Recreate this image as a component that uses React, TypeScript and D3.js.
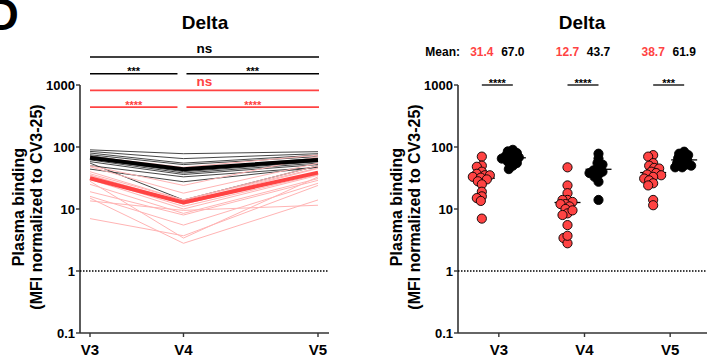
import { useEffect, useRef } from "react";
import * as d3 from "d3";

const visits = ["V3", "V4", "V5"];
// relative spacing of the visits on the left (time) panel
const visitSpacing = [0, 0.41, 1];

// one row per donor: [V3, V4, V5]
const redDonors = [
  [70, 47, 74],
  [50, 24, 70],
  [48, 18, 55],
  [40, 14, 50],
  [37, 14, 46],
  [35, 13, 45],
  [35, 12, 40],
  [33, 12, 38],
  [32, 11, 36],
  [30, 10, 35],
  [28, 3.4, 33],
  [25, 8.5, 31],
  [19, 8, 29],
  [16, 5.5, 26],
  [15, 2.8, 14],
  [13.5, 9.5, 11.5],
  [7, 3.7, 24],
];
const blackDonors = [
  [90, 78, 84],
  [85, 65, 78],
  [80, 55, 74],
  [75, 52, 70],
  [72, 44, 66],
  [68, 42, 62],
  [65, 40, 58],
  [62, 38, 55],
  [58, 36, 52],
  [55, 14, 50],
  [50, 33, 47],
  [44, 27.5, 47],
];

const yTicks = [0.1, 1, 10, 100, 1000];
const yTickLabels = ["0.1", "1", "10", "100", "1000"];

// comparisons over time, per group
const blackComparisons = [
  { from: "V3", to: "V5", label: "ns" },
  { from: "V3", to: "V4", label: "***" },
  { from: "V4", to: "V5", label: "***" },
];
const redComparisons = [
  { from: "V3", to: "V5", label: "ns" },
  { from: "V3", to: "V4", label: "****" },
  { from: "V4", to: "V5", label: "****" },
];
// red vs black at each visit
const groupStars = ["****", "****", "***"];

const W = 707;
const H = 360;
const RED = "#ff4343";
const PINK = "#ffb4b4";
const AXIS = "#333";
const FONT = "'Liberation Sans', Arial, sans-serif";

// simple 1-d beeswarm: push points sideways until they stop overlapping too much
function swarm(ys: number[], minDist: number): number[] {
  const order = d3.range(ys.length).sort((a, b) => ys[a] - ys[b]);
  const placed: { x: number; y: number }[] = [];
  const out = new Array(ys.length).fill(0);
  order.forEach((i) => {
    let best = 0;
    for (let k = 0; k < 60; k++) {
      const dx = (k % 2 === 0 ? 1 : -1) * Math.ceil(k / 2);
      const ok = placed.every((p) => Math.hypot(p.x - dx, p.y - ys[i]) >= minDist);
      if (ok) { best = dx; break; }
    }
    placed.push({ x: best, y: ys[i] });
    out[i] = best;
  });
  return out;
}

export default function App() {
  const svgRef = useRef<SVGSVGElement | null>(null);

  useEffect(() => {
    const svg = d3.select(svgRef.current);
    svg.selectAll("*").remove();
    svg.attr("width", W).attr("height", H).style("font-family", FONT);

    const y = d3.scaleLog().domain([0.1, 1000]).range([333, 85]);
    const xl = d3.scaleLinear().domain([0, 1]).range([90, 318]);
    const xr = d3.scalePoint<string>().domain(visits).range([456, 713]).padding(0.5);

    const redMeans = visits.map((_, i) => d3.mean(redDonors, (d) => d[i]) as number);
    const blackMeans = visits.map((_, i) => d3.mean(blackDonors, (d) => d[i]) as number);

    // panel letter (cut by the page edge, as in the figure)
    svg.append("text").attr("x", -13).attr("y", 30)
      .attr("font-size", 44).attr("font-weight", "bold").text("D");

    const frame = (x0: number, x1: number, cx: number) => {
      const g = svg.append("g");
      g.append("line").attr("x1", x0).attr("x2", x0).attr("y1", y(1000)).attr("y2", y(0.1))
        .attr("stroke", AXIS).attr("stroke-width", 1.6);
      g.append("line").attr("x1", x0).attr("x2", x1).attr("y1", y(0.1)).attr("y2", y(0.1))
        .attr("stroke", AXIS).attr("stroke-width", 1.6);
      g.selectAll(".yt").data(yTicks).enter().append("line")
        .attr("x1", x0 - 4).attr("x2", x0).attr("y1", (d) => y(d)).attr("y2", (d) => y(d))
        .attr("stroke", AXIS).attr("stroke-width", 1.4);
      g.selectAll(".yl").data(yTicks).enter().append("text")
        .attr("x", x0 - 5).attr("y", (d) => y(d)).attr("dy", "0.36em")
        .attr("text-anchor", "end").attr("font-size", 13).attr("font-weight", "bold")
        .text((_, i) => yTickLabels[i]);
      g.append("line").attr("x1", x0).attr("x2", x1).attr("y1", y(1)).attr("y2", y(1))
        .attr("stroke", "#000").attr("stroke-width", 1.4).attr("stroke-dasharray", "1.5,1.5");
      const lab = g.append("text").attr("transform", `translate(${x0 - 56},207) rotate(-90)`)
        .attr("text-anchor", "middle").attr("font-size", 16).attr("font-weight", "bold");
      lab.append("tspan").attr("x", 0).attr("y", 0).text("Plasma binding");
      lab.append("tspan").attr("x", 0).attr("y", 18).text("(MFI normalized to CV3-25)");
      g.append("text").attr("x", cx).attr("y", 29).attr("text-anchor", "middle")
        .attr("font-size", 19).attr("font-weight", "bold").text("Delta");
      return g;
    };

    // ---------- left panel: donor trajectories ----------
    const left = frame(80, 329, 205);
    const xPos = (v: string) => xl(visitSpacing[visits.indexOf(v)]);
    left.selectAll(".xt").data(visits).enter().append("line")
      .attr("x1", (d) => xPos(d)).attr("x2", (d) => xPos(d))
      .attr("y1", y(0.1)).attr("y2", y(0.1) + 4).attr("stroke", AXIS).attr("stroke-width", 1.4);
    left.selectAll(".xl").data(visits).enter().append("text")
      .attr("x", (d) => xPos(d)).attr("y", 355).attr("text-anchor", "middle")
      .attr("font-size", 15).attr("font-weight", "bold").text((d) => d);

    const line = d3.line<number>().x((_, i) => xl(visitSpacing[i])).y((d) => y(d));
    left.selectAll(".bl").data(blackDonors).enter().append("path")
      .attr("d", (d) => line(d)).attr("fill", "none").attr("stroke", "#333")
      .attr("stroke-width", 1).attr("stroke-opacity", 0.9);
    left.selectAll(".rl").data(redDonors).enter().append("path")
      .attr("d", (d) => line(d)).attr("fill", "none").attr("stroke", PINK).attr("stroke-width", 1);
    left.append("path").attr("d", line(redMeans)).attr("fill", "none")
      .attr("stroke", RED).attr("stroke-width", 4);
    left.append("path").attr("d", line(blackMeans)).attr("fill", "none")
      .attr("stroke", "#000").attr("stroke-width", 4);

    const brackets = (list: typeof blackComparisons, row0: number, color: string) => {
      list.forEach((c) => {
        const full = c.from === visits[0] && c.to === visits[visits.length - 1];
        const yy = 57 + (row0 + (full ? 0 : 1)) * 16.7;
        const x1 = xPos(c.from) + (c.from === "V4" ? 3 : 0);
        const x2 = xPos(c.to) - (c.to === "V4" ? 6 : 0) + (c.to === "V5" ? 1 : 0);
        left.append("line").attr("x1", x1).attr("x2", x2).attr("y1", yy).attr("y2", yy)
          .attr("stroke", color).attr("stroke-width", 1.6);
        const ns = c.label === "ns";
        left.append("text").attr("x", (x1 + x2) / 2).attr("y", ns ? yy - 4 : yy + 1.5)
          .attr("text-anchor", "middle").attr("fill", color).attr("font-weight", "bold")
          .attr("font-size", ns ? 13.5 : 11).text(c.label);
      });
    };
    brackets(blackComparisons, 0, "#000");
    brackets(redComparisons, 2, RED);

    // ---------- right panel: dot plot ----------
    const right = frame(458, 707, 582);
    right.selectAll(".xt").data(visits).enter().append("line")
      .attr("x1", (d) => xr(d) as number).attr("x2", (d) => xr(d) as number)
      .attr("y1", y(0.1)).attr("y2", y(0.1) + 4).attr("stroke", AXIS).attr("stroke-width", 1.4);
    right.selectAll(".xl").data(visits).enter().append("text")
      .attr("x", (d) => xr(d) as number).attr("y", 355).attr("text-anchor", "middle")
      .attr("font-size", 15).attr("font-weight", "bold").text((d) => d);

    const groups = [
      { donors: redDonors, means: redMeans, fill: RED, shift: -17, text: RED },
      { donors: blackDonors, means: blackMeans, fill: "#000", shift: 14, text: "#000" },
    ];
    right.append("text").attr("x", 460).attr("y", 56).attr("text-anchor", "end")
      .attr("font-size", 12).attr("font-weight", "bold").text("Mean:");

    visits.forEach((v, i) => {
      const cx = xr(v) as number;
      groups.forEach((gr) => {
        const gx = cx + gr.shift;
        const ys = gr.donors.map((d) => y(d[i]));
        const offs = swarm(ys, 4.6);
        right.append("line").attr("x1", gx - 13).attr("x2", gx + 13)
          .attr("y1", y(gr.means[i])).attr("y2", y(gr.means[i]))
          .attr("stroke", "#000").attr("stroke-width", 1.3);
        right.selectAll(null).data(ys).enter().append("circle")
          .attr("cx", (_, k) => gx + offs[k]).attr("cy", (d) => d).attr("r", 4.6)
          .attr("fill", gr.fill).attr("stroke", "#000").attr("stroke-width", 0.9);
        right.append("text").attr("x", gx).attr("y", 56).attr("text-anchor", "middle")
          .attr("font-size", 12).attr("font-weight", "bold").attr("fill", gr.text)
          .text(d3.format(".1f")(gr.means[i]));
      });
      right.append("line").attr("x1", cx - 17).attr("x2", cx + 14).attr("y1", 85).attr("y2", 85)
        .attr("stroke", AXIS).attr("stroke-width", 1.6);
      right.append("text").attr("x", cx - 1.5).attr("y", 86.5).attr("text-anchor", "middle")
        .attr("font-size", 11).attr("font-weight", "bold").text(groupStars[i]);
    });
  }, []);

  return (
    <svg ref={svgRef} style={{ position: "absolute", left: 0, top: 0, background: "#fff" }}></svg>
  );
}
